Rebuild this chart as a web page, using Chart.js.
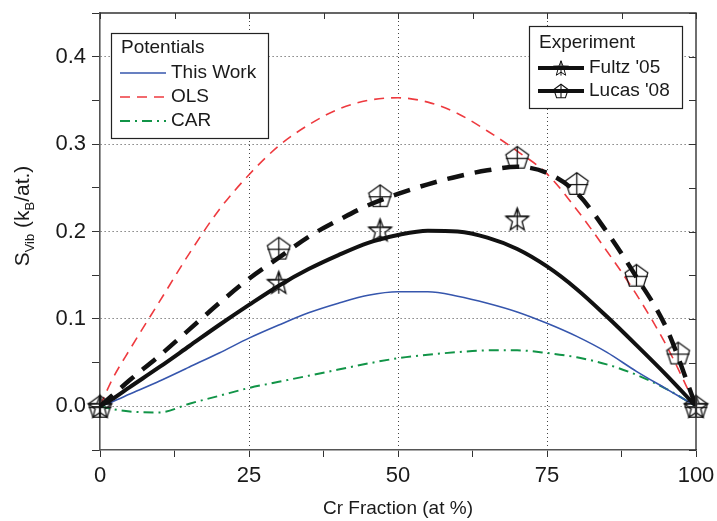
<!DOCTYPE html>
<html>
<head>
<meta charset="utf-8">
<script src="https://cdn.jsdelivr.net/npm/chart.js@4"></script>
<style>
  html, body { margin: 0; padding: 0; background: #fff; }
  canvas { display: block; }
</style>
</head>
<body>
<canvas id="c" width="717" height="521"></canvas>
<script>
// Composition grid (Cr at %) shared by the model curves
const crFraction = [0, 2, 5, 10, 15, 20, 25, 30, 35, 40, 45, 50, 55, 60, 65, 70, 75, 80, 85, 90, 95, 100];

// Vibrational entropy of mixing, k_B per atom
const thisWork = [0, 0.005, 0.014, 0.029, 0.045, 0.061, 0.078, 0.093, 0.107, 0.118, 0.127, 0.131, 0.131, 0.126, 0.118, 0.108, 0.095, 0.080, 0.062, 0.040, 0.020, 0];
const olsCurve = [0, 0.030, 0.065, 0.120, 0.175, 0.225, 0.265, 0.298, 0.322, 0.340, 0.350, 0.353, 0.348, 0.335, 0.315, 0.292, 0.266, 0.225, 0.178, 0.128, 0.070, 0];
const carCurve = [0, -0.003, -0.006, -0.007, 0.003, 0.012, 0.021, 0.028, 0.035, 0.042, 0.049, 0.055, 0.059, 0.062, 0.064, 0.064, 0.061, 0.056, 0.048, 0.036, 0.020, 0];
const fultzFit = [0, 0.008, 0.022, 0.045, 0.069, 0.093, 0.116, 0.138, 0.157, 0.173, 0.187, 0.196, 0.201, 0.200, 0.193, 0.180, 0.160, 0.134, 0.103, 0.070, 0.036, 0];
const lucasFit = [0, 0.012, 0.030, 0.058, 0.088, 0.118, 0.146, 0.170, 0.194, 0.213, 0.230, 0.243, 0.254, 0.263, 0.270, 0.274, 0.267, 0.244, 0.200, 0.148, 0.090, 0];

// Measurements
const fultzX = [0, 30, 47, 70, 100];
const fultzY = [0, 0.142, 0.202, 0.2145, 0];
const lucasX = [0, 30, 47, 70, 80, 90, 97, 100];
const lucasY = [0, 0.181, 0.241, 0.285, 0.255, 0.150, 0.061, 0];

// Axis labelling
const xTickLabels = [0, 25, 50, 75, 100];
const yTickLabels = ['0.0', '0.1', '0.2', '0.3', '0.4'];
const xTitle = 'Cr Fraction (at %)';

const FONT = '"Liberation Sans", Arial, Helvetica, sans-serif';
const TEXT = '#1a1a1a';

function pairs(xs, ys) { return xs.map((x, i) => ({ x, y: ys[i] })); }

// Open pentagon with a cross inside
function pentagonMarker(r, lw) {
  const s = Math.ceil(r * 2 + lw * 2 + 2);
  const cv = document.createElement('canvas');
  cv.width = s; cv.height = s;
  const g = cv.getContext('2d');
  const c = s / 2, cy = c + r * 0.1;
  const pts = [];
  for (let k = 0; k < 5; k++) {
    const a = -Math.PI / 2 + k * 2 * Math.PI / 5;
    pts.push([c + r * Math.cos(a), cy + r * Math.sin(a)]);
  }
  g.strokeStyle = '#111'; g.lineWidth = lw;
  g.beginPath();
  pts.forEach((p, i) => i ? g.lineTo(p[0], p[1]) : g.moveTo(p[0], p[1]));
  g.closePath(); g.stroke();
  const bottom = cy + r * Math.cos(Math.PI / 5);
  g.beginPath();
  g.moveTo(c, pts[0][1]); g.lineTo(c, bottom);
  g.moveTo(pts[4][0], cy); g.lineTo(pts[1][0], cy);
  g.stroke();
  return cv;
}

// Open five-point star with a cross inside
function starMarker(r, lw) {
  const s = Math.ceil(r * 2 + lw * 2 + 2);
  const cv = document.createElement('canvas');
  cv.width = s; cv.height = s;
  const g = cv.getContext('2d');
  const c = s / 2, cy = c + r * 0.1;
  const ri = r * 0.42;
  g.strokeStyle = '#111'; g.lineWidth = lw;
  g.beginPath();
  for (let k = 0; k < 10; k++) {
    const a = -Math.PI / 2 + k * Math.PI / 5;
    const rr = k % 2 ? ri : r;
    const px = c + rr * Math.cos(a), py = cy + rr * Math.sin(a);
    k ? g.lineTo(px, py) : g.moveTo(px, py);
  }
  g.closePath(); g.stroke();
  g.beginPath();
  g.moveTo(c, cy - r); g.lineTo(c, cy + r * 0.85);
  g.moveTo(c - r * 0.95, cy - r * 0.31); g.lineTo(c + r * 0.95, cy - r * 0.31);
  g.stroke();
  return cv;
}

const pentBig = pentagonMarker(12, 1.25);
const starBig = starMarker(12, 1.3);
const pentSmall = pentagonMarker(7.5, 1.1);
const starSmall = starMarker(8, 1.0);

const isMajorX = v => Math.abs(v % 25) < 1e-6;
const isMajorY = v => Math.abs(Math.round(v * 100) % 10) < 1e-6;

// Top/right frame with inward ticks, subscripted y title, x title
const framePlugin = {
  id: 'frame',
  afterDraw(chart) {
    const { ctx, chartArea: a, scales: { x, y } } = chart;
    ctx.save();
    ctx.strokeStyle = '#333';
    ctx.lineWidth = 1.4;
    ctx.beginPath();
    ctx.moveTo(a.left, a.top); ctx.lineTo(a.right, a.top); ctx.lineTo(a.right, a.bottom);
    ctx.stroke();
    ctx.lineWidth = 1;
    ctx.beginPath();
    x.ticks.forEach(t => {
      const px = Math.round(x.getPixelForValue(t.value)) + 0.5;
      ctx.moveTo(px, a.top); ctx.lineTo(px, a.top + 6);
    });
    y.ticks.forEach(t => {
      const py = Math.round(y.getPixelForValue(t.value)) + 0.5;
      ctx.moveTo(a.right, py); ctx.lineTo(a.right - 7, py);
    });
    ctx.stroke();

    // x axis title
    ctx.fillStyle = TEXT;
    ctx.font = '19px ' + FONT;
    ctx.textAlign = 'center';
    ctx.textBaseline = 'middle';
    ctx.fillText(xTitle, (a.left + a.right) / 2, 509);

    // y axis title: S_Vib (k_B/at.)
    const parts = [
      { t: 'S', f: 21, dy: 0 },
      { t: 'Vib', f: 13, dy: 5 },
      { t: ' (k', f: 21, dy: 0 },
      { t: 'B', f: 13, dy: 5 },
      { t: '/at.)', f: 21, dy: 0 }
    ];
    let total = 0;
    parts.forEach(p => { ctx.font = p.f + 'px ' + FONT; p.w = ctx.measureText(p.t).width; total += p.w; });
    ctx.translate(22, 216);
    ctx.rotate(-Math.PI / 2);
    ctx.textAlign = 'left';
    ctx.textBaseline = 'alphabetic';
    let cx = -total / 2;
    parts.forEach(p => {
      ctx.font = p.f + 'px ' + FONT;
      ctx.fillText(p.t, cx, 7 + p.dy);
      cx += p.w;
    });
    ctx.restore();
  }
};

// Two boxed legends: model potentials and experiments
const legendPlugin = {
  id: 'boxedLegends',
  afterDraw(chart) {
    const { ctx } = chart;
    const ds = chart.data.datasets;
    const box = (x0, y0, w, h) => {
      ctx.fillStyle = '#fff';
      ctx.fillRect(x0, y0, w, h);
      ctx.strokeStyle = '#222';
      ctx.lineWidth = 1.2;
      ctx.strokeRect(x0 + 0.5, y0 + 0.5, w, h);
    };
    const text = (t, x0, y0) => {
      ctx.fillStyle = TEXT;
      ctx.font = '19px ' + FONT;
      ctx.textAlign = 'left';
      ctx.textBaseline = 'middle';
      ctx.fillText(t, x0, y0);
    };
    const sample = (d, x0, x1, yy) => {
      ctx.save();
      ctx.strokeStyle = d.borderColor;
      ctx.lineWidth = d.borderWidth;
      ctx.setLineDash(d.borderDash || []);
      ctx.beginPath(); ctx.moveTo(x0, yy); ctx.lineTo(x1, yy); ctx.stroke();
      ctx.restore();
    };

    ctx.save();
    box(111, 33, 157, 105);
    text('Potentials', 121, 48);
    [0, 1, 2].forEach((i, k) => {
      const yy = 73 + k * 24;
      sample(ds[i], 120, 166, yy);
      text(ds[i].label, 171, yy);
    });

    box(529, 26, 153, 82);
    text('Experiment', 539, 43);
    [[3, starSmall, 68], [4, pentSmall, 91]].forEach(([i, img, yy]) => {
      ctx.save();
      ctx.strokeStyle = '#111';
      ctx.lineWidth = 4;
      ctx.beginPath(); ctx.moveTo(538, yy); ctx.lineTo(584, yy); ctx.stroke();
      ctx.restore();
      ctx.drawImage(img, 561 - img.width / 2, yy - img.height / 2);
      text(ds[i].label, 589, yy);
    });
    ctx.restore();
  }
};

const lineDefaults = { showLine: true, pointRadius: 0, pointHoverRadius: 0, fill: false, cubicInterpolationMode: 'monotone', clip: false };

new Chart(document.getElementById('c'), {
  type: 'scatter',
  data: {
    datasets: [
      { ...lineDefaults, label: 'This Work', data: pairs(crFraction, thisWork), borderColor: '#3656ad', borderWidth: 1.6, order: 5 },
      { ...lineDefaults, label: 'OLS', data: pairs(crFraction, olsCurve), borderColor: '#ee3a3f', borderWidth: 1.6, borderDash: [10, 7], order: 6 },
      { ...lineDefaults, label: 'CAR', data: pairs(crFraction, carCurve), borderColor: '#119447', borderWidth: 2, borderDash: [10, 5, 2, 5], order: 7 },
      { ...lineDefaults, label: "Fultz '05", data: pairs(crFraction, fultzFit), borderColor: '#111', borderWidth: 4, order: 3 },
      { ...lineDefaults, label: "Lucas '08", data: pairs(crFraction, lucasFit), borderColor: '#111', borderWidth: 4.5, borderDash: [17, 11], order: 4 },
      { label: "Fultz '05 data", data: pairs(fultzX, fultzY), showLine: false, pointStyle: starBig, pointRadius: 12, clip: false, order: 1 },
      { label: "Lucas '08 data", data: pairs(lucasX, lucasY), showLine: false, pointStyle: pentBig, pointRadius: 12, clip: false, order: 2 }
    ]
  },
  options: {
    responsive: false,
    animation: false,
    devicePixelRatio: 1,
    events: [],
    layout: { padding: { top: 12, right: 21, left: 0, bottom: 0 } },
    plugins: { legend: { display: false }, tooltip: { enabled: false } },
    scales: {
      x: {
        type: 'linear', position: 'bottom', min: 0, max: 100,
        afterBuildTicks: s => { s.ticks = [0, 12.5, 25, 37.5, 50, 62.5, 75, 87.5, 100].map(v => ({ value: v })); },
        afterFit: s => { s.height = 71; s.paddingLeft = 0; s.paddingRight = 0; },
        ticks: {
          autoSkip: false, maxRotation: 0, padding: 6, color: TEXT,
          font: { family: FONT, size: 22 },
          callback: v => (isMajorX(v) && xTickLabels.includes(v)) ? String(v) : ''
        },
        grid: {
          color: c => (c.tick && isMajorX(c.tick.value) && c.tick.value > 0 && c.tick.value < 100) ? '#444' : 'rgba(0,0,0,0)',
          lineWidth: 1, tickColor: '#333', tickLength: 7, tickWidth: 1
        },
        border: { display: true, color: '#555', width: 1.6, dash: [1, 3] }
      },
      y: {
        type: 'linear', position: 'left', min: -0.05, max: 0.45,
        afterBuildTicks: s => { s.ticks = [-0.05, 0, 0.05, 0.1, 0.15, 0.2, 0.25, 0.3, 0.35, 0.4, 0.45].map(v => ({ value: v })); },
        afterFit: s => { s.width = 100; s.paddingTop = 0; s.paddingBottom = 0; },
        ticks: {
          autoSkip: false, padding: 6, color: TEXT,
          font: { family: FONT, size: 22 },
          callback: v => {
            if (!isMajorY(v)) return '';
            const lbl = (Math.round(v * 10) / 10).toFixed(1);
            return yTickLabels.includes(lbl) ? lbl : '';
          }
        },
        grid: {
          color: c => (c.tick && isMajorY(c.tick.value) && c.tick.value > -0.04 && c.tick.value < 0.44) ? '#444' : 'rgba(0,0,0,0)',
          lineWidth: 1, tickColor: '#333', tickLength: 8, tickWidth: 1
        },
        border: { display: true, color: '#555', width: 1.6, dash: [1, 3] }
      }
    }
  },
  plugins: [framePlugin, legendPlugin]
});
</script>
</body>
</html>
